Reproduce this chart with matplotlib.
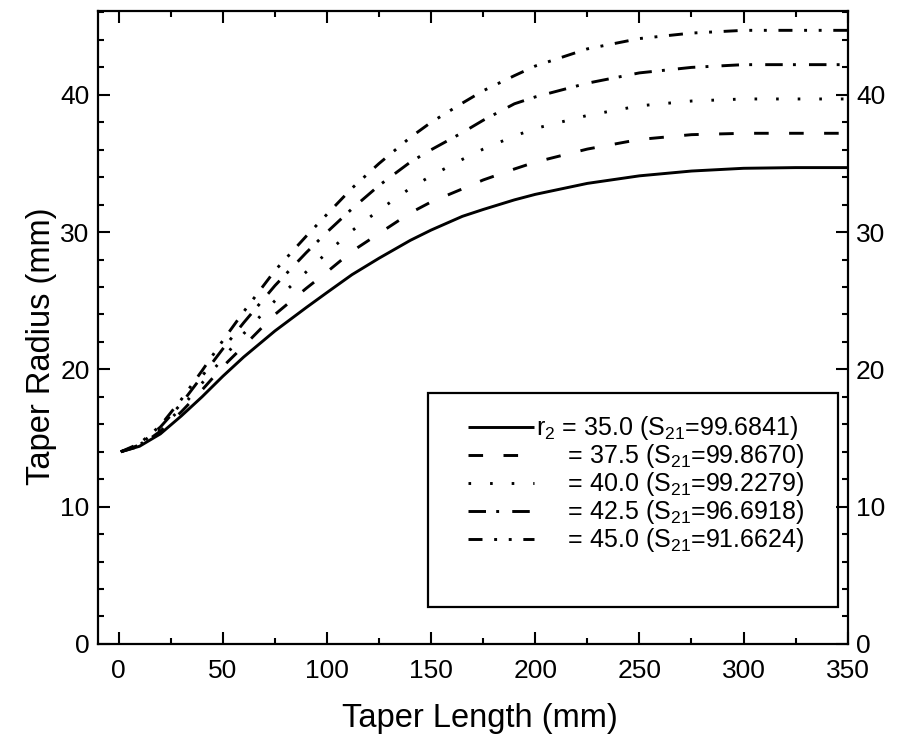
import numpy as np
import matplotlib
matplotlib.use("Agg")
import matplotlib.pyplot as plt
from matplotlib.patches import Rectangle
from matplotlib.ticker import MultipleLocator

plt.rcParams['font.family'] = ['Liberation Sans', 'DejaVu Sans']
plt.rcParams['mathtext.fontset'] = 'custom'
plt.rcParams['mathtext.rm'] = 'Liberation Sans'
plt.rcParams['mathtext.it'] = 'Liberation Sans'

# taper length (mm)
length = [1, 10, 20, 30, 40, 50, 60, 75, 90, 100, 112, 125, 140, 150, 165, 175,
          190, 200, 225, 250, 275, 300, 325, 350]

# taper radius (mm) for each end radius r2
r_350 = [14.0, 14.4, 15.3, 16.6, 18.0, 19.5, 20.9, 22.8, 24.5, 25.6, 26.9, 28.1,
         29.4, 30.15, 31.15, 31.65, 32.35, 32.75, 33.55, 34.1, 34.45, 34.65, 34.7, 34.7]
r_375 = [14.0, 14.4, 15.5, 16.9, 18.5, 20.2, 21.7, 24.0, 25.9, 27.1, 28.6, 29.9,
         31.4, 32.2, 33.15, 33.8, 34.6, 35.1, 36.05, 36.75, 37.1, 37.2, 37.2, 37.2]
r_400 = [14.0, 14.5, 15.6, 17.2, 19.0, 20.8, 22.6, 25.0, 27.1, 28.5, 30.1, 31.6,
         33.2, 34.1, 35.3, 36.05, 37.0, 37.55, 38.5, 39.2, 39.55, 39.7, 39.7, 39.7]
r_425 = [14.0, 14.5, 15.8, 17.5, 19.5, 21.5, 23.4, 26.1, 28.5, 30.0, 31.7, 33.4,
         35.1, 36.0, 37.25, 38.15, 39.35, 39.85, 40.85, 41.6, 42.0, 42.2, 42.2, 42.2]
r_450 = [14.0, 14.6, 15.9, 17.8, 19.9, 22.1, 24.2, 27.2, 29.7, 31.3, 33.2, 35.0,
         36.9, 38.0, 39.4, 40.3, 41.4, 42.1, 43.35, 44.1, 44.5, 44.7, 44.7, 44.7]

r2_values = ["35.0", "37.5", "40.0", "42.5", "45.0"]
s21_values = ["99.6841", "99.8670", "99.2279", "96.6918", "91.6624"]

curves = [r_350, r_375, r_400, r_425, r_450]
dash_styles = [
    (0, ()),
    (0, (5, 7)),
    (0, (0.9, 6.5)),
    (0, (6, 3.5, 1, 4.5)),
    (0, (4.8, 4, 1, 4, 1, 4)),
]

fig = plt.figure(figsize=(8.98, 7.41), dpi=100)
ax = fig.add_subplot(111)
fig.subplots_adjust(left=0.109, right=0.944, top=0.985, bottom=0.131)

for i in range(len(curves)):
    if i == 0:
        label = "r$_2$ = %s (S$_{21}$=%s)" % (r2_values[i], s21_values[i])
    else:
        label = "$\\hspace{1.2}$ = %s (S$_{21}$=%s)" % (r2_values[i], s21_values[i])
    ax.plot(length, curves[i], color='black', linewidth=2.1,
            linestyle=dash_styles[i], label=label)

ax.set_xlim(-10, 350)
ax.set_ylim(0, 46.1)

ax.xaxis.set_major_locator(MultipleLocator(50))
ax.xaxis.set_minor_locator(MultipleLocator(25))
ax.yaxis.set_major_locator(MultipleLocator(10))
ax.yaxis.set_minor_locator(MultipleLocator(2))

ax.tick_params(which='both', direction='in', top=True, right=True,
               labelright=True, width=1.5, labelsize=19)
ax.tick_params(which='major', length=8.5)
ax.tick_params(which='minor', length=4.3)
ax.tick_params(axis='y', pad=6)
ax.tick_params(axis='x', pad=11)

for s in ax.spines.values():
    s.set_linewidth(1.6)

ax.set_xlabel("Taper Length (mm)", fontsize=23.5)
ax.set_ylabel("Taper Radius (mm)", fontsize=23.5)
ax.xaxis.set_label_coords(0.509, -0.093)
ax.yaxis.set_label_coords(-0.055, 0.471)

# legend box
ax.add_patch(Rectangle((0.44, 0.058), 0.547, 0.339, transform=ax.transAxes,
                       fill=False, edgecolor='black', linewidth=1.6, zorder=5))

leg = ax.legend(loc='center left', bbox_to_anchor=(0.493, 0.252),
                frameon=False, fontsize=18, handlelength=2.65,
                handletextpad=0.1, labelspacing=0.0, borderpad=0,
                borderaxespad=0)

fig.savefig("out.png", dpi=100)
